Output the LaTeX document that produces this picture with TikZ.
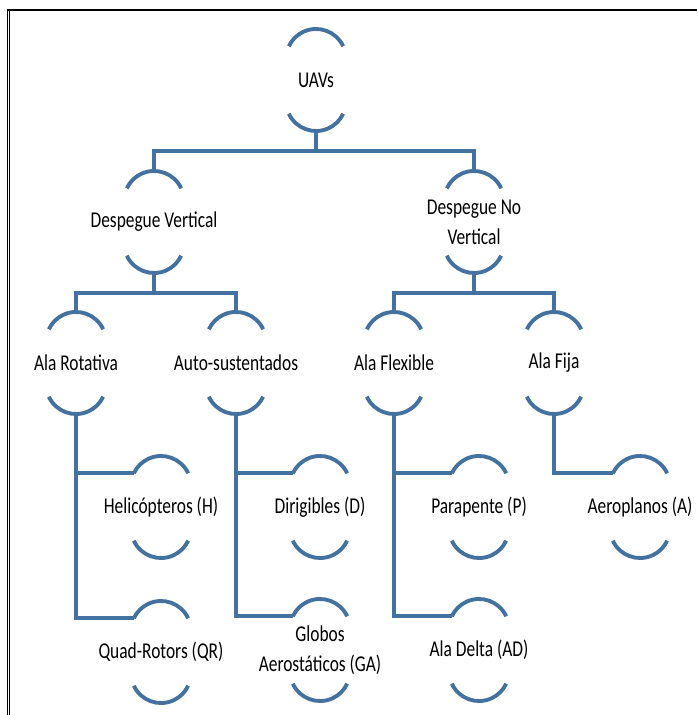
\documentclass[tikz,border=0pt]{standalone}
\usepackage{fontspec}
\setmainfont{Carlito}
\usetikzlibrary{positioning}

\definecolor{ramaazul}{RGB}{68,114,160}

% the two arcs that cap every label, plus its anchor points
\newcommand{\tapas}[1]{%
  \draw[rama] ([shift={(27.2,33.7)}]#1.center) arc (25:155:30);
  \draw[rama] ([shift={(-27.2,-33.7)}]#1.center) arc (205:335:30);
  \coordinate (#1-t) at ([shift={(0,51)}]#1.center);
  \coordinate (#1-b) at ([shift={(0,-51)}]#1.center);
  \coordinate (#1-l) at ([shift={(-27.2,33.7)}]#1.center);
}

\begin{document}
\begin{tikzpicture}[
    x=0.02cm, y=0.02cm,
    rama/.style={draw=ramaazul, line width=2.2pt},
    etiqueta/.style={text=black, font=\fontsize{9.9}{13}\selectfont,
      yscale=1.3, transform shape, align=center, inner sep=0pt}
]
\useasboundingbox (0,0) rectangle (697,-715);

% frame
\draw[line width=0.55pt, double, double distance=1.1pt] (8.5,-715) -- (8.5,-10);
\draw[line width=1.2pt] (7,-10) -- (697,-10);

% Labels
\node[etiqueta] (uav) at (316,-80) {UAVs};
\node[etiqueta] (dv) at (154,-222) {Despegue Vertical};
\node[etiqueta] (dnv) at (474,-222) {Despegue No\\Vertical};
\node[etiqueta] (rot) at (76,-363) {Ala Rotativa};
\node[etiqueta] (auto) at (236,-363) {Auto-sustentados};
\node[etiqueta] (flex) at (394,-363) {Ala Flexible};
\node[etiqueta] (fija) at (554,-363) {Ala Fija};
\node[etiqueta] (heli) at (161,-507) {Helicópteros (H)};
\node[etiqueta] (quad) at (161,-652) {Quad-Rotors (QR)};
\node[etiqueta] (diri) at (320,-507) {Dirigibles (D)};
\node[etiqueta] (glob) at (320,-650) {Globos\\Aerostáticos (GA)};
\node[etiqueta] (para) at (479,-507) {Parapente (P)};
\node[etiqueta] (delta) at (479,-650) {Ala Delta (AD)};
\node[etiqueta] (aero) at (640,-507) {Aeroplanos (A)};

\foreach \n in {uav,dv,dnv,rot,auto,flex,fija,heli,quad,diri,glob,para,delta,aero}
  {\tapas{\n}}

% Branches
\draw[rama] (uav-b) -- ++(0,-20);
\draw[rama] (dv-t) -- ++(0,20) -| (dnv-t);
\draw[rama] (dv-b) -- ++(0,-19);
\draw[rama] (rot-t) -- ++(0,19) -| (auto-t);
\draw[rama] (dnv-b) -- ++(0,-19);
\draw[rama] (flex-t) -- ++(0,19) -| (fija-t);

\draw[rama] (rot-b) |- (heli-l);
\draw[rama] (rot-b) |- (quad-l);
\draw[rama] (auto-b) |- (diri-l);
\draw[rama] (auto-b) |- (glob-l);
\draw[rama] (flex-b) |- (para-l);
\draw[rama] (flex-b) |- (delta-l);
\draw[rama] (fija-b) |- (aero-l);

\end{tikzpicture}
\end{document}
